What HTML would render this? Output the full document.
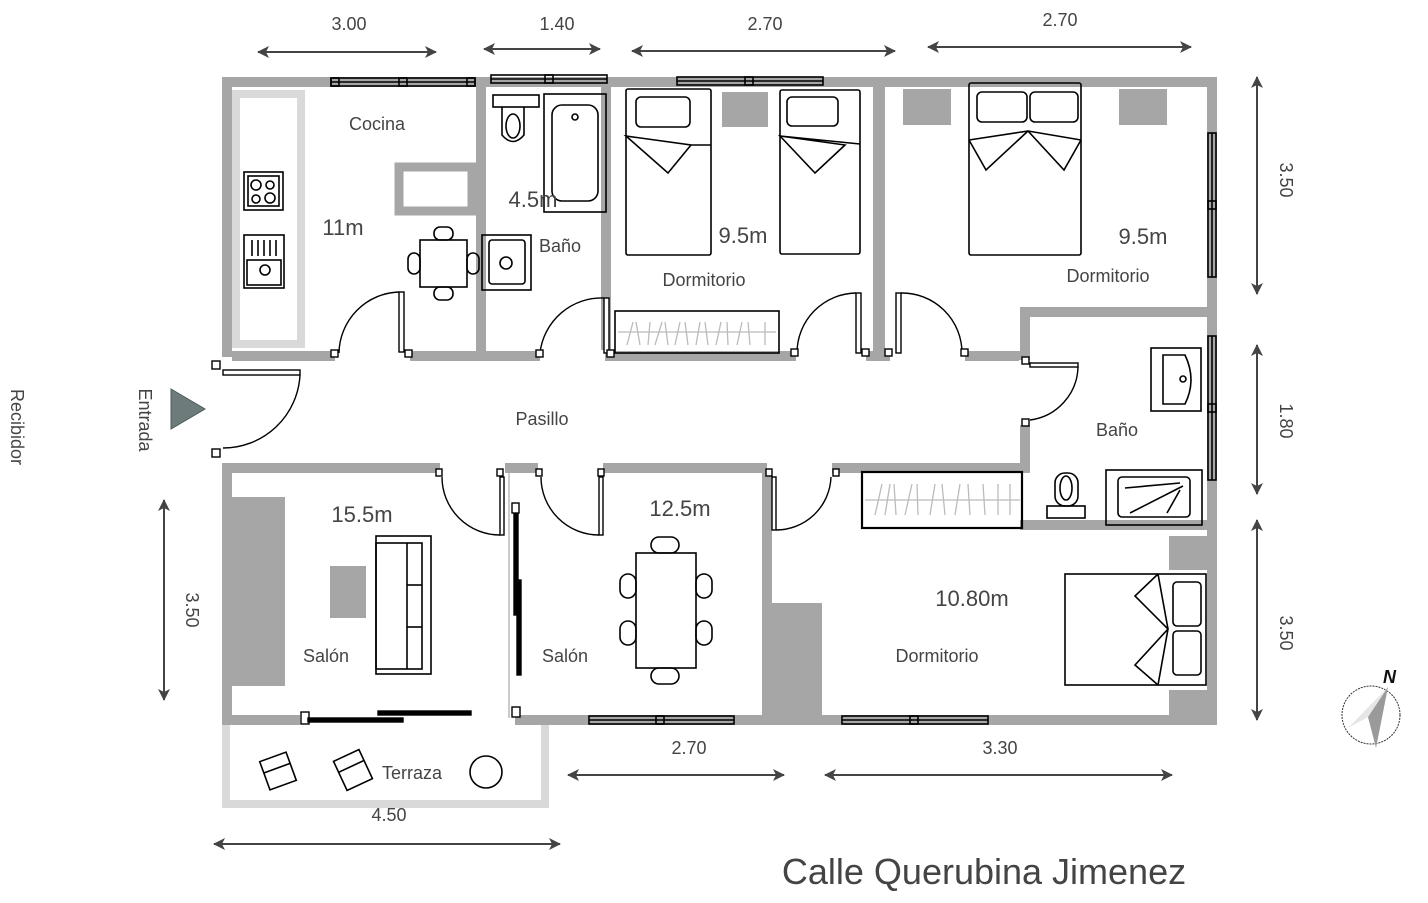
<!DOCTYPE html>
<html><head><meta charset="utf-8"><style>
html,body{margin:0;padding:0;background:#fff;}
svg{display:block;}
text{font-family:"Liberation Sans",sans-serif;fill:#444;}
</style></head><body>
<svg width="1428" height="903" viewBox="0 0 1428 903" xmlns="http://www.w3.org/2000/svg">
<defs>
<marker id="ah" markerWidth="14" markerHeight="14" refX="11" refY="6" orient="auto-start-reverse" markerUnits="userSpaceOnUse"><path d="M0,0 L12,6 L0,12 L3,6 Z" fill="#444"/></marker>
</defs>
<rect x="226" y="719" width="319" height="85" fill="none" stroke="#d9d9d9" stroke-width="8"/>
<rect x="236" y="94" width="65" height="250" fill="none" stroke="#d9d9d9" stroke-width="8"/>
<g fill="#a6a6a6">
<rect x="222" y="77" width="995" height="10"/>
<rect x="222" y="77" width="10" height="280"/>
<rect x="1207" y="77" width="10" height="648"/>
<rect x="476" y="77" width="10" height="280"/>
<rect x="601" y="77" width="10" height="280"/>
<rect x="873" y="77" width="12" height="280"/>
<rect x="222" y="351" width="808" height="10"/>
<rect x="1020" y="307" width="10" height="166"/>
<rect x="1020" y="307" width="197" height="10"/>
<rect x="222" y="463" width="808" height="10"/>
<rect x="1020" y="520" width="197" height="10"/>
<rect x="222" y="463" width="10" height="262"/>
<rect x="222" y="715" width="995" height="10"/>
<rect x="762" y="463" width="10" height="262"/>
<rect x="722" y="92" width="46" height="35"/>
<rect x="903" y="89" width="48" height="36"/>
<rect x="1119" y="89" width="48" height="36"/>
<rect x="232" y="497" width="53" height="189"/>
<rect x="330" y="566" width="36" height="52"/>
<rect x="770" y="603" width="52" height="112"/>
<rect x="1169" y="536" width="38" height="34"/>
<rect x="1169" y="690" width="38" height="25"/>
</g>
<rect x="399" y="167" width="73" height="44" fill="none" stroke="#a6a6a6" stroke-width="9"/>
<g fill="#fff">
<rect x="222" y="357" width="10" height="106"/>
<rect x="335" y="350" width="75" height="12"/>
<rect x="540" y="350" width="65" height="12"/>
<rect x="796" y="350" width="70" height="12"/>
<rect x="890" y="350" width="75" height="12"/>
<rect x="1019" y="360" width="12" height="65"/>
<rect x="440" y="462" width="65" height="12"/>
<rect x="538" y="462" width="65" height="12"/>
<rect x="767" y="462" width="65" height="12"/>
<rect x="505" y="473" width="10" height="245"/>
<rect x="300" y="714" width="215" height="12"/>
</g>
<line x1="509" y1="473" x2="509" y2="718" stroke="#bbb" stroke-width="1.5"/>
<g fill="none" stroke="#000" stroke-width="1.6">
<rect x="331" y="78" width="144" height="8"/><line x1="331" y1="82" x2="475" y2="82"/><rect x="331" y="78" width="8" height="8"/><rect x="399" y="78" width="8" height="8"/><rect x="467" y="78" width="8" height="8"/>
<rect x="491" y="75" width="116" height="8"/><line x1="491" y1="79" x2="607" y2="79"/><rect x="545" y="75" width="8" height="8"/>
<rect x="677" y="77" width="146" height="8"/><line x1="677" y1="81" x2="823" y2="81"/><rect x="745" y="77" width="8" height="8"/>
<rect x="1208" y="133" width="8" height="144"/><line x1="1212" y1="133" x2="1212" y2="277"/><rect x="1208" y="201" width="8" height="8"/>
<rect x="1208" y="336" width="8" height="144"/><line x1="1212" y1="336" x2="1212" y2="480"/><rect x="1208" y="404" width="8" height="8"/>
<rect x="589" y="716" width="145" height="8"/><line x1="589" y1="720" x2="734" y2="720"/><rect x="656" y="716" width="8" height="8"/>
<rect x="842" y="716" width="146" height="8"/><line x1="842" y1="720" x2="988" y2="720"/><rect x="910" y="716" width="8" height="8"/>
<rect x="244" y="172" width="39" height="38"/><rect x="248" y="176" width="31" height="30"/>
<circle cx="256" cy="185" r="5"/><circle cx="270" cy="185" r="4"/><circle cx="256" cy="199" r="4"/><circle cx="270" cy="198" r="5"/>
<rect x="244" y="235" width="40" height="53"/><rect x="247" y="260" width="34" height="25"/><circle cx="265" cy="270" r="5"/>
<line x1="252" y1="240" x2="252" y2="256"/><line x1="258" y1="240" x2="258" y2="256"/><line x1="264" y1="240" x2="264" y2="256"/><line x1="270" y1="240" x2="270" y2="256"/><line x1="276" y1="240" x2="276" y2="256"/>
<rect x="420" y="240" width="47" height="47"/>
<rect x="434" y="227" width="19" height="13" rx="6"/><rect x="434" y="287" width="19" height="13" rx="6"/>
<rect x="408" y="253" width="12" height="21" rx="6"/><rect x="467" y="253" width="12" height="21" rx="6"/>
<rect x="493" y="95" width="46" height="12"/><path d="M502,107 L502,135 Q513,148 524,135 L524,107"/><ellipse cx="513" cy="126" rx="7" ry="12"/>
<rect x="544" y="94" width="62" height="118"/><rect x="552" y="105" width="46" height="96" rx="10"/><circle cx="575" cy="117" r="3"/>
<rect x="482" y="235" width="49" height="55"/><rect x="489" y="240" width="36" height="44" rx="3"/><circle cx="506" cy="263" r="6"/>
<rect x="626" y="89" width="85" height="166" rx="2"/><rect x="636" y="97" width="54" height="30" rx="5"/><path d="M626,136 L691,145 L668,173 Z M691,145 L711,145"/>
<rect x="780" y="90" width="80" height="164" rx="2"/><rect x="787" y="97" width="51" height="29" rx="5"/><path d="M780,136 L815,173 L845,145 Z M780,136 L860,144"/>
<rect x="969" y="83" width="112" height="172" rx="2"/><rect x="977" y="92" width="50" height="30" rx="5"/><rect x="1030" y="92" width="48" height="30" rx="5"/>
<path d="M969,140 L1028,131 L1081,140 M969,140 L986,170 L1028,131 L1064,170 L1081,140"/>
<rect x="615" y="311" width="164" height="42"/>
<rect x="862" y="472" width="160" height="56" stroke-width="2.2"/>
<rect x="1151" y="348" width="50" height="63"/><path d="M1163,355 L1185,355 Q1197,380 1185,404 L1163,404 Z"/><circle cx="1183" cy="379" r="3"/>
<rect x="1047" y="506" width="38" height="12"/><rect x="1055" y="473" width="23" height="33" rx="10"/><ellipse cx="1066" cy="488" rx="6" ry="12"/>
<rect x="1106" y="470" width="96" height="55"/><rect x="1118" y="477" width="72" height="40" rx="4"/>
<path d="M1125,488 L1180,483 M1130,513 L1183,486 M1167,513 L1180,490"/>
<rect x="376" y="536" width="55" height="138"/><rect x="376" y="543" width="46" height="126"/><line x1="407" y1="543" x2="407" y2="669"/><line x1="407" y1="585" x2="422" y2="585"/><line x1="407" y1="627" x2="422" y2="627"/>
<rect x="636" y="553" width="60" height="115"/>
<rect x="651" y="537" width="28" height="16" rx="8"/><rect x="651" y="668" width="28" height="16" rx="8"/>
<rect x="620" y="574" width="16" height="24" rx="8"/><rect x="620" y="621" width="16" height="24" rx="8"/>
<rect x="696" y="574" width="16" height="24" rx="8"/><rect x="696" y="621" width="16" height="24" rx="8"/>
<rect x="1065" y="574" width="141" height="111"/><rect x="1173" y="582" width="28" height="44" rx="4"/><rect x="1173" y="631" width="28" height="44" rx="4"/>
<path d="M1158,574 L1135,596 L1168,629 L1135,665 L1158,685 M1158,574 L1168,629 L1158,685"/>
<g transform="rotate(-20 278 771)"><rect x="264" y="756" width="28" height="30"/><line x1="264" y1="768" x2="292" y2="768"/></g>
<g transform="rotate(-25 353 770)"><rect x="339" y="754" width="28" height="32"/><line x1="339" y1="766" x2="367" y2="766"/></g>
<circle cx="486" cy="772" r="16"/>
</g>
<g stroke="#bbb" stroke-width="1.3" fill="none">
<line x1="618" y1="332" x2="776" y2="332"/>
<path d="M627,345 L633,322 M640,345 L636,322 M648,345 L650,322 M655,345 L662,322 M668,345 L665,322 M675,345 L680,322 M688,345 L685,322 M696,345 L700,322 M708,345 L705,322 M716,345 L721,322 M728,345 L727,322 M737,345 L742,322 M750,345 L748,322 M765,345 L765,322"/>
<line x1="865" y1="500" x2="1020" y2="500"/>
<path d="M875,515 L882,484 M885,515 L890,484 M896,515 L894,484 M905,515 L912,484 M918,515 L917,484 M930,515 L935,484 M945,515 L942,484 M955,515 L960,484 M970,515 L968,484 M985,515 L983,484 M998,515 L998,484 M1010,515 L1010,484"/>
</g>
<g fill="#fff" stroke="#000" stroke-width="1.4">
<rect x="399" y="292" width="5" height="60"/><path d="M339,353 A62,62 0 0 1 399,292" fill="none"/><rect x="331" y="350" width="7" height="7"/><rect x="405" y="350" width="7" height="7"/>
<rect x="604" y="298" width="5" height="55"/><path d="M540,353 A62,62 0 0 1 604,298" fill="none"/><rect x="536" y="350" width="7" height="7"/><rect x="607" y="350" width="7" height="7"/>
<rect x="856" y="293" width="5" height="60"/><path d="M797,353 A60,60 0 0 1 856,293" fill="none"/><rect x="791" y="349" width="7" height="7"/><rect x="862" y="349" width="7" height="7"/>
<rect x="896" y="293" width="5" height="60"/><path d="M901,293 A60,60 0 0 1 962,353" fill="none"/><rect x="885" y="349" width="7" height="7"/><rect x="961" y="349" width="7" height="7"/>
<rect x="1030" y="363" width="48" height="4"/><path d="M1078,367 A55,55 0 0 1 1030,420" fill="none"/><rect x="1022" y="357" width="7" height="7"/><rect x="1022" y="419" width="7" height="7"/>
<rect x="223" y="370" width="77" height="5"/><path d="M300,375 A77,77 0 0 1 223,448" fill="none"/><rect x="212" y="361" width="8" height="8"/><rect x="212" y="449" width="8" height="8"/>
<rect x="500" y="477" width="4" height="58"/><path d="M500,535 A58,58 0 0 1 442,477" fill="none"/><rect x="436" y="469" width="6" height="7"/><rect x="497" y="469" width="6" height="7"/>
<rect x="599" y="477" width="4" height="58"/><path d="M599,535 A58,58 0 0 1 541,477" fill="none"/><rect x="536" y="469" width="6" height="7"/><rect x="598" y="469" width="6" height="7"/>
<rect x="772" y="477" width="4" height="53"/><path d="M776,530 A55,55 0 0 0 831,477" fill="none"/><rect x="766" y="469" width="6" height="7"/><rect x="833" y="469" width="6" height="7"/>
<rect x="514" y="505" width="4" height="110" fill="#000"/><rect x="512" y="503" width="7" height="10"/>
<rect x="517" y="580" width="4" height="95" fill="#000"/>
<rect x="512" y="707" width="8" height="10"/>
<rect x="301" y="712" width="8" height="12"/><rect x="308" y="718" width="95" height="4" fill="#000"/><rect x="378" y="711" width="93" height="4" fill="#000"/>
</g>
<path d="M171,389 L205,409 L171,429 Z" fill="#6e7b7b" stroke="#4a5a5a"/>
<circle cx="1371" cy="715" r="29" fill="none" stroke="#333" stroke-width="1" stroke-dasharray="2,1"/>
<path d="M1388,687 L1348,728 L1368,717 Z" fill="#e6e6e6"/>
<path d="M1388,687 L1368,717 L1376,748 Z" fill="#9a9a9a"/>
<text x="1383" y="683" font-size="18" font-weight="bold" font-style="italic" style="fill:#111">N</text>
<g stroke="#444" stroke-width="2" marker-start="url(#ah)" marker-end="url(#ah)">
<line x1="258" y1="52" x2="436" y2="52"/>
<line x1="484" y1="49" x2="600" y2="49"/>
<line x1="632" y1="51" x2="895" y2="51"/>
<line x1="928" y1="47" x2="1191" y2="47"/>
<line x1="1257" y1="77" x2="1257" y2="294"/>
<line x1="1257" y1="345" x2="1257" y2="494"/>
<line x1="1257" y1="520" x2="1257" y2="720"/>
<line x1="164" y1="500" x2="164" y2="700"/>
<line x1="568" y1="775" x2="784" y2="775"/>
<line x1="825" y1="775" x2="1172" y2="775"/>
<line x1="214" y1="844" x2="560" y2="844"/>
</g>
<g font-size="18">
<text x="349" y="30" text-anchor="middle">3.00</text>
<text x="557" y="30" text-anchor="middle">1.40</text>
<text x="765" y="30" text-anchor="middle">2.70</text>
<text x="1060" y="26" text-anchor="middle">2.70</text>
<text x="689" y="754" text-anchor="middle">2.70</text>
<text x="1000" y="754" text-anchor="middle">3.30</text>
<text x="389" y="821" text-anchor="middle">4.50</text>
<text transform="translate(1280,180) rotate(90)" text-anchor="middle">3.50</text>
<text transform="translate(1280,421) rotate(90)" text-anchor="middle">1.80</text>
<text transform="translate(1280,633) rotate(90)" text-anchor="middle">3.50</text>
<text transform="translate(186,610) rotate(90)" text-anchor="middle">3.50</text>
<text transform="translate(11,427) rotate(90)" text-anchor="middle">Recibidor</text>
<text transform="translate(139,420) rotate(90)" text-anchor="middle">Entrada</text>
<text x="377" y="130" text-anchor="middle">Cocina</text>
<text x="560" y="252" text-anchor="middle">Baño</text>
<text x="704" y="286" text-anchor="middle">Dormitorio</text>
<text x="1108" y="282" text-anchor="middle">Dormitorio</text>
<text x="542" y="425" text-anchor="middle">Pasillo</text>
<text x="1117" y="436" text-anchor="middle">Baño</text>
<text x="326" y="662" text-anchor="middle">Salón</text>
<text x="565" y="662" text-anchor="middle">Salón</text>
<text x="937" y="662" text-anchor="middle">Dormitorio</text>
<text x="412" y="779" text-anchor="middle">Terraza</text>
</g>
<g font-size="22">
<text x="343" y="235" text-anchor="middle">11m</text>
<text x="533" y="207" text-anchor="middle">4.5m</text>
<text x="743" y="243" text-anchor="middle">9.5m</text>
<text x="1143" y="244" text-anchor="middle">9.5m</text>
<text x="362" y="522" text-anchor="middle">15.5m</text>
<text x="680" y="516" text-anchor="middle">12.5m</text>
<text x="972" y="606" text-anchor="middle">10.80m</text>
</g>
<text x="984" y="884" font-size="36" text-anchor="middle">Calle Querubina Jimenez</text>
</svg>
</body></html>
